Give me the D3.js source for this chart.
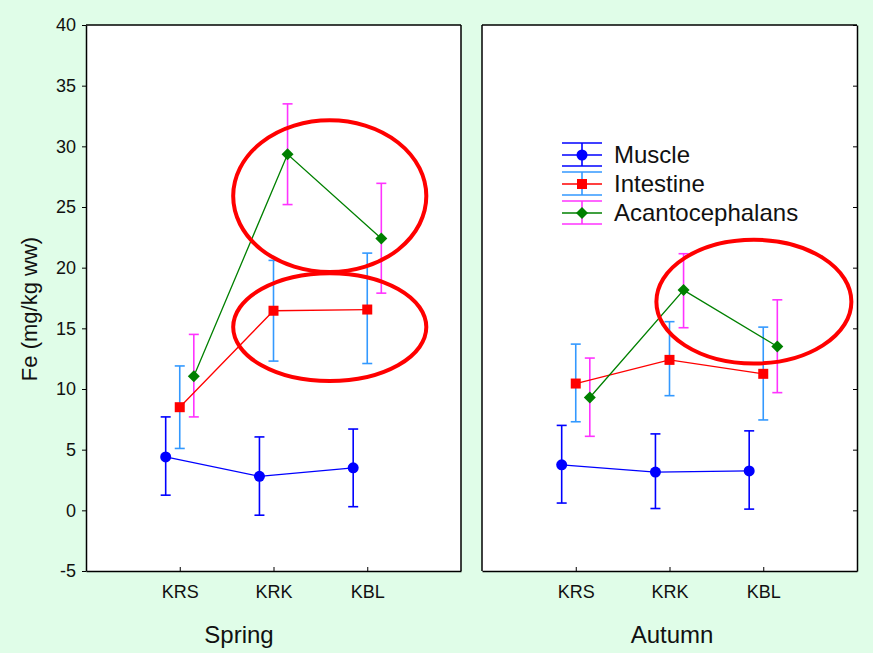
<!DOCTYPE html>
<html>
<head>
<meta charset="utf-8">
<script src="https://cdn.jsdelivr.net/npm/d3@7"></script>
<style>
  body { margin: 0; background: #e0fde8; }
  svg { display: block; font-family: "Liberation Sans", Arial, sans-serif; }
</style>
</head>
<body>
<svg id="chart" width="873" height="653"></svg>
<script>
// data
const sites = ["KRS", "KRK", "KBL"];
const seasons = ["Spring", "Autumn"];
const yTicks = [-5, 0, 5, 10, 15, 20, 25, 30, 35, 40];
const seriesNames = ["Muscle", "Intestine", "Acantocephalans"];

// means
const muscleSpring = [4.4, 2.8, 3.5];
const intestineSpring = [8.5, 16.45, 16.55];
const acantoSpring = [11.05, 29.35, 22.4];
const muscleAutumn = [3.75, 3.15, 3.25];
const intestineAutumn = [10.45, 12.4, 11.25];
const acantoAutumn = [9.3, 18.15, 13.5];

// error bars [low, high]
const muscleSpringErr = [[1.25, 7.7], [-0.4, 6.05], [0.3, 6.7]];
const intestineSpringErr = [[5.1, 11.9], [12.3, 20.6], [12.1, 21.2]];
const acantoSpringErr = [[7.7, 14.5], [25.2, 33.5], [17.9, 26.95]];
const muscleAutumnErr = [[0.6, 7.0], [0.15, 6.3], [0.1, 6.55]];
const intestineAutumnErr = [[7.3, 13.7], [9.45, 15.55], [7.45, 15.1]];
const acantoAutumnErr = [[6.1, 12.55], [15.05, 21.15], [9.7, 17.35]];

// highlight ellipses in data units: [season, x centre, y centre, x radius, y radius]
const ellipses = [
  ["Spring", 2.6, 25.9, 1.03, 6.25],
  ["Spring", 2.6, 15.1, 1.03, 4.45],
  ["Autumn", 2.9, 17.2, 1.04, 5.1]
];

const lineColors = ["#0000ff", "#ff0000", "#008000"];
const errColors = ["#0000ff", "#3399ff", "#ff33ff"];
const offsets = [-0.15, 0, 0.15];

const data = {
  Spring: [[muscleSpring, muscleSpringErr], [intestineSpring, intestineSpringErr], [acantoSpring, acantoSpringErr]],
  Autumn: [[muscleAutumn, muscleAutumnErr], [intestineAutumn, intestineAutumnErr], [acantoAutumn, acantoAutumnErr]]
};

const svg = d3.select("#chart");
const plotTop = 25, plotH = 546, plotW = 375;
const panelLeft = {Spring: 86, Autumn: 482};
const labelCenter = {Spring: 153, Autumn: 190};

const y = d3.scaleLinear().domain([-5, 40]).range([plotH, 0]);
const x = d3.scaleLinear().domain([0, 4]).range([0, plotW]);

// y axis title
svg.append("text")
   .attr("transform", "translate(37,309) rotate(-90)")
   .attr("text-anchor", "middle")
   .style("font-size", "22px")
   .attr("fill", "#111")
   .text("Fe (mg/kg ww)");

function drawMarker(g, i, cx, cy) {
  if (i === 0) {
    g.append("circle").attr("cx", cx).attr("cy", cy).attr("r", 5.5).attr("fill", lineColors[0]);
  } else if (i === 1) {
    g.append("rect").attr("x", cx - 5).attr("y", cy - 5).attr("width", 10).attr("height", 10).attr("fill", lineColors[1]);
  } else {
    g.append("path").attr("d", d3.symbol(d3.symbolSquare, 72)()).attr("transform", `translate(${cx},${cy}) rotate(45)`).attr("fill", lineColors[2]);
  }
}

seasons.forEach((season, si) => {
  const g = svg.append("g").attr("transform", `translate(${panelLeft[season]},${plotTop})`);

  g.append("rect").attr("width", plotW).attr("height", plotH).attr("fill", "#fff");

  // axes
  const xAxis = g.append("g").attr("transform", `translate(0,${plotH})`)
     .call(d3.axisBottom(x).tickValues([1, 2, 3]).tickFormat(d => sites[d - 1]).tickSizeInner(-4).tickSizeOuter(0).tickPadding(14));
  xAxis.selectAll("text").style("font-size", "18px").attr("fill", "#111");
  xAxis.select(".domain").attr("stroke-width", 1.5);

  if (si === 0) {
    const yAxis = g.append("g")
       .call(d3.axisLeft(y).tickValues(yTicks).tickFormat(d => String(d)).tickSizeInner(4).tickSizeOuter(0).tickPadding(6));
    yAxis.selectAll("text").style("font-size", "18px").attr("fill", "#111");
    yAxis.select(".domain").attr("stroke-width", 1.5);
    g.append("line").attr("x1", plotW).attr("x2", plotW).attr("y1", 0).attr("y2", plotH).attr("stroke", "#000").attr("stroke-width", 1.5);
  } else {
    const yAxis = g.append("g").attr("transform", `translate(${plotW},0)`)
       .call(d3.axisRight(y).tickValues(yTicks).tickSizeInner(-4).tickSizeOuter(0).tickFormat(""));
    yAxis.select(".domain").attr("stroke-width", 1.5);
    g.append("line").attr("x1", 0).attr("x2", 0).attr("y1", 0).attr("y2", plotH).attr("stroke", "#000").attr("stroke-width", 1.5);
  }
  g.append("line").attr("x1", 0).attr("x2", plotW).attr("y1", 0).attr("y2", 0).attr("stroke", "#000").attr("stroke-width", 1.5);

  const series = data[season];

  // error bars
  series.forEach(([means, errs], i) => {
    errs.forEach((e, j) => {
      const cx = x(j + 1 + offsets[i]);
      const eg = g.append("g").attr("stroke", errColors[i]).attr("stroke-width", 1.6);
      eg.append("line").attr("x1", cx).attr("x2", cx).attr("y1", y(e[0])).attr("y2", y(e[1]));
      eg.append("line").attr("x1", cx - 5).attr("x2", cx + 5).attr("y1", y(e[0])).attr("y2", y(e[0]));
      eg.append("line").attr("x1", cx - 5).attr("x2", cx + 5).attr("y1", y(e[1])).attr("y2", y(e[1]));
    });
  });

  // lines + markers
  series.forEach(([means, errs], i) => {
    const line = d3.line().x((d, j) => x(j + 1 + offsets[i])).y(d => y(d));
    g.append("path").attr("d", line(means)).attr("fill", "none").attr("stroke", lineColors[i]).attr("stroke-width", 1.3);
    means.forEach((m, j) => drawMarker(g, i, x(j + 1 + offsets[i]), y(m)));
  });

  // highlight ellipses
  ellipses.filter(e => e[0] === season).forEach(e => {
    g.append("ellipse")
     .attr("cx", x(e[1])).attr("cy", y(e[2]))
     .attr("rx", x(e[3]) - x(0)).attr("ry", y(0) - y(e[4]))
     .attr("fill", "none").attr("stroke", "#ff0000").attr("stroke-width", 4);
  });

  // season label
  svg.append("text")
     .attr("x", panelLeft[season] + labelCenter[season])
     .attr("y", 643)
     .attr("text-anchor", "middle")
     .style("font-size", "24px")
     .attr("fill", "#111")
     .text(season);

  // legend in the right panel
  if (season === "Autumn") {
    const leg = g.append("g").attr("transform", "translate(80,130)");
    seriesNames.forEach((name, i) => {
      const row = leg.append("g").attr("transform", `translate(0,${i * 29})`);
      const eg = row.append("g").attr("stroke", errColors[i]).attr("stroke-width", 1.6);
      eg.append("line").attr("x1", 20).attr("x2", 20).attr("y1", -12).attr("y2", 11);
      eg.append("line").attr("x1", 0).attr("x2", 40).attr("y1", -12).attr("y2", -12);
      eg.append("line").attr("x1", 0).attr("x2", 40).attr("y1", 11).attr("y2", 11);
      row.append("line").attr("x1", 0).attr("x2", 40).attr("y1", 0).attr("y2", 0).attr("stroke", lineColors[i]).attr("stroke-width", 1.6);
      drawMarker(row, i, 20, 0);
      row.append("text").attr("x", 52).attr("y", 8).style("font-size", "24px").attr("fill", "#111").text(name);
    });
  }
});
</script>
</body>
</html>
